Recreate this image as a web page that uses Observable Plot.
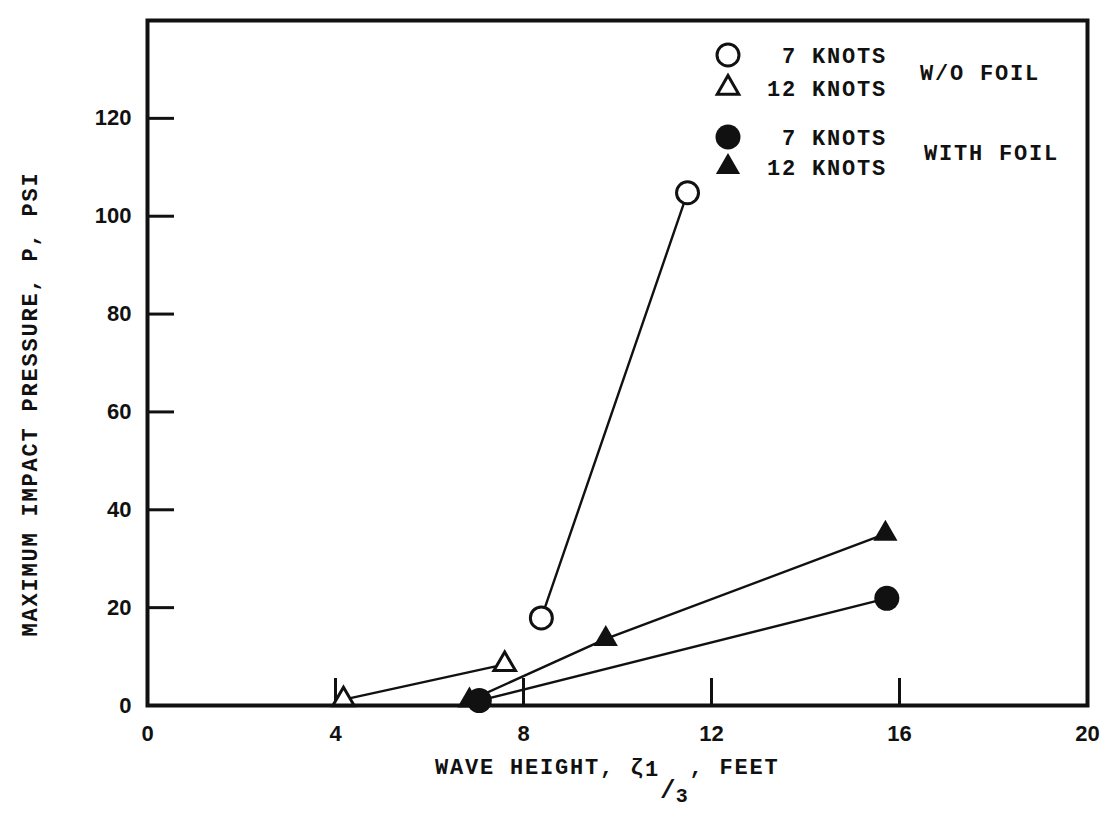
<!DOCTYPE html>
<html><head><meta charset="utf-8">
<script src="https://cdn.jsdelivr.net/npm/d3@7"></script>
<script src="https://cdn.jsdelivr.net/npm/@observablehq/plot@0.6"></script>
<style>
body{margin:0;background:#fff;}
#chart{position:relative;width:1116px;height:816px;background:#fff;}
.mono{font-family:"Liberation Mono",monospace;font-size:22px;font-weight:bold;letter-spacing:1.8px;fill:#111;}
</style></head><body><div id="chart"></div>
<script>
// ---- data ----
const xTicks = [0, 4, 8, 12, 16, 20];
const yTicks = [0, 20, 40, 60, 80, 100, 120];
const innerXTicks = [4, 8, 12, 16];
const innerYTicks = [20, 40, 60, 80, 100, 120];

const woFoil7X = [8.38, 11.49];
const woFoil7Y = [17.9, 104.8];
const woFoil12X = [4.17, 7.6];
const woFoil12Y = [1.2, 8.4];
const foil7X = [7.06, 15.73];
const foil7Y = [1.0, 21.9];
const foil12X = [6.85, 9.75, 15.7];
const foil12Y = [1.0, 13.6, 35.1];

const legendLabels = ["\u00A07 KNOTS", "12 KNOTS", "\u00A07 KNOTS", "12 KNOTS"];
const groupLabels = ["W/O FOIL", "WITH FOIL"];
const yTitle = "MAXIMUM IMPACT PRESSURE, P, PSI";

const pts = (X, Y) => X.map((x, i) => ({x, y: Y[i]}));

const W = 1116, H = 816;
const mL = 147, mR = 29, mT = 20, mB = 111;
const plotW = W - mL - mR, plotH = H - mT - mB;
const tickLen = 27;

const chart = Plot.plot({
  width: W, height: H,
  marginLeft: mL, marginRight: mR, marginTop: mT, marginBottom: mB,
  style: {fontFamily: "Liberation Sans, sans-serif", fontSize: "22px", fontWeight: "bold", color: "#111", background: "#fff"},
  x: {domain: [0, 20]},
  y: {domain: [0, 140]},
  marks: [
    Plot.ruleX(innerXTicks, {stroke: "#111", strokeWidth: 3, insetTop: plotH - tickLen}),
    Plot.ruleY(innerYTicks, {stroke: "#111", strokeWidth: 3, insetRight: plotW - tickLen}),
    Plot.axisX({ticks: xTicks, tickSize: 0, tickPadding: 20, label: null, tickFormat: d => String(d)}),
    Plot.axisY({ticks: yTicks, tickSize: 0, tickPadding: 16, label: null, tickFormat: d => String(d)}),
    Plot.line(pts(woFoil7X, woFoil7Y), {x: "x", y: "y", stroke: "#111", strokeWidth: 2.4}),
    Plot.line(pts(woFoil12X, woFoil12Y), {x: "x", y: "y", stroke: "#111", strokeWidth: 2.4}),
    Plot.line(pts(foil7X, foil7Y), {x: "x", y: "y", stroke: "#111", strokeWidth: 2.4}),
    Plot.line(pts(foil12X, foil12Y), {x: "x", y: "y", stroke: "#111", strokeWidth: 2.4}),
    Plot.dot(pts(foil12X, foil12Y), {x: "x", y: "y", symbol: "triangle", r: 9, fill: "#111", stroke: "none"}),
    Plot.dot(pts(foil7X, foil7Y), {x: "x", y: "y", symbol: "circle", r: 12.5, fill: "#111", stroke: "none"}),
    Plot.dot(pts(woFoil12X, woFoil12Y), {x: "x", y: "y", symbol: "triangle", r: 8, fill: "#fff", stroke: "#111", strokeWidth: 3}),
    Plot.dot(pts(woFoil7X, woFoil7Y), {x: "x", y: "y", symbol: "circle", r: 11, fill: "#fff", stroke: "#111", strokeWidth: 3}),
    Plot.frame({stroke: "#111", strokeWidth: 4})
  ]
});
document.getElementById("chart").appendChild(chart);

const svg = d3.select(chart);

// y axis title
svg.append("text").attr("class", "mono")
  .attr("transform", "translate(37,404) rotate(-90)")
  .attr("text-anchor", "middle")
  .text(yTitle);

// x axis title with subscript 1/3
const xt = svg.append("text").attr("class", "mono")
  .attr("x", 435).attr("y", 774).attr("text-anchor", "start");
xt.append("tspan").text("WAVE HEIGHT, \u03B6");
xt.append("tspan").attr("dy", 2).text("1");
xt.append("tspan").attr("dy", 22).style("font-size", "26px").style("letter-spacing", "0px").text("/");
xt.append("tspan").attr("dy", 4).style("font-size", "20px").text("3");
xt.append("tspan").attr("dy", -28).text(", FEET");

// legend
const legSym = [
  {type: d3.symbolCircle, r: 11, fill: "#fff", stroke: "#111"},
  {type: d3.symbolTriangle, r: 8, fill: "#fff", stroke: "#111"},
  {type: d3.symbolCircle, r: 12.5, fill: "#111", stroke: "none"},
  {type: d3.symbolTriangle, r: 9, fill: "#111", stroke: "none"}
];
const rowY = [55, 88, 137, 167];
const leg = svg.append("g").attr("text-anchor", "start");
legSym.forEach((s, i) => {
  leg.append("path")
    .attr("transform", `translate(728,${rowY[i]})`)
    .attr("d", d3.symbol(s.type, s.r * s.r * Math.PI)())
    .attr("fill", s.fill).attr("stroke", s.stroke).attr("stroke-width", 3);
  leg.append("text").attr("class", "mono").attr("text-anchor", "start")
    .attr("x", 767).attr("y", rowY[i]).attr("dy", "0.35em")
    .text(legendLabels[i]);
});
leg.append("text").attr("class", "mono").attr("text-anchor", "start").attr("x", 920).attr("y", 72).attr("dy", "0.35em").text(groupLabels[0]);
leg.append("text").attr("class", "mono").attr("text-anchor", "start").attr("x", 924).attr("y", 152).attr("dy", "0.35em").text(groupLabels[1]);
</script></body></html>
